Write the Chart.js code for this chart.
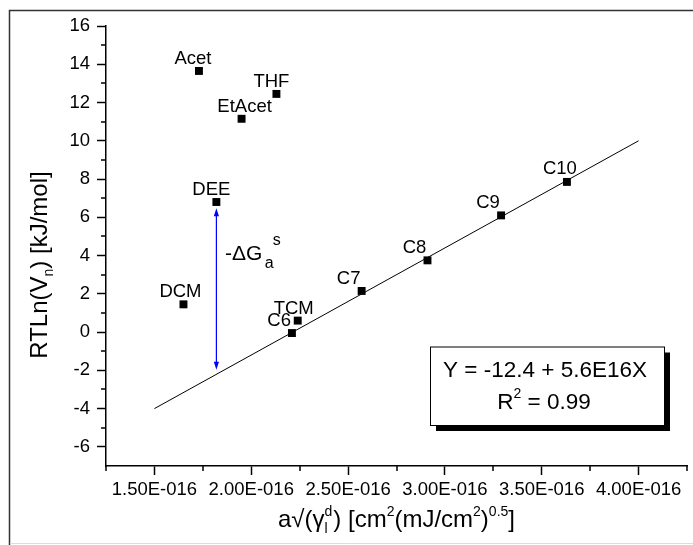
<!DOCTYPE html>
<html lang="en">
<head>
  <meta charset="utf-8">
  <title>RTLn(Vn) vs a sqrt(gamma)</title>
  <script src="https://cdn.jsdelivr.net/npm/chart.js@4.4.0/dist/chart.umd.min.js"></script>
  <style>
    body { margin: 0; background: #fff; }
    #wrap { width: 693px; height: 545px; }
  </style>
</head>
<body>
<div id="wrap"><canvas id="myChart" width="693" height="545"></canvas></div>
<script>
// probe molecules, values
var probes = ["Acet", "THF", "EtAcet", "DEE", "DCM", "TCM", "C6", "C7", "C8", "C9", "C10"];
var xValues = [1.73e-16, 2.13e-16, 1.95e-16, 1.82e-16, 1.65e-16, 2.24e-16, 2.21e-16, 2.57e-16, 2.91e-16, 3.29e-16, 3.63e-16];
var yValues = [13.65, 12.45, 11.15, 6.8, 1.45, 0.6, -0.05, 2.15, 3.75, 6.1, 7.85];

// regression line ends
var fitX = [1.5e-16, 4.0e-16];
var fitY = [-4, 10];

// -dGa arrow (DEE down to the line)
var arrowX = [1.82e-16, 1.82e-16];
var arrowY = [6.47, -1.97];

var xTicks = [1.5e-16, 2.0e-16, 2.5e-16, 3.0e-16, 3.5e-16, 4.0e-16];
var yTicks = [-6, -4, -2, 0, 2, 4, 6, 8, 10, 12, 14, 16];
var fitLines = ["Y = -12.4 + 5.6E16X", "= 0.99"];

var FONT = "'Liberation Sans', Arial, Helvetica, sans-serif";
Chart.defaults.font.family = FONT;
Chart.defaults.color = '#000';

function sci(v) {
  var p = v.toExponential(2).split('e');
  var e = parseInt(p[1], 10);
  return p[0] + 'E' + (e < 0 ? '-' : '+') + String(Math.abs(e)).padStart(3, '0');
}

// pieces: [text, size, baseline shift, no advance, extra advance]
function runWidth(ctx, parts) {
  var w = 0;
  parts.forEach(function(p) {
    ctx.font = p[1] + 'px ' + FONT;
    if (!p[3]) w += ctx.measureText(p[0]).width;
    if (p[4]) w += p[4];
  });
  return w;
}
function drawRun(ctx, parts, x, y) {
  parts.forEach(function(p) {
    ctx.font = p[1] + 'px ' + FONT;
    ctx.fillText(p[0], x, y + p[2]);
    if (!p[3]) x += ctx.measureText(p[0]).width;
    if (p[4]) x += p[4];
  });
}

// small per-label nudges [dx, dy, align]
var labelPos = {
  Acet: [-6, -7], THF: [-5, -7], EtAcet: [3, -7], DEE: [-5, -7], DCM: [-3, -7],
  TCM: [-4, -7], C6: [-1, -7, 'right'], C7: [-13, -7], C8: [-13, -7], C9: [-13, -7], C10: [-7, -8]
};

var decor = {
  id: 'decor',
  beforeDraw: function(chart) {
    var ctx = chart.ctx;
    ctx.save();
    ctx.fillStyle = '#fff';
    ctx.fillRect(0, 0, chart.width, chart.height);
    ctx.strokeStyle = '#333';
    ctx.lineWidth = 1.5;
    ctx.beginPath();
    ctx.moveTo(9.5, 545); ctx.lineTo(9.5, 10.5); ctx.lineTo(693, 10.5);
    ctx.stroke();
    ctx.strokeStyle = '#ddd';
    ctx.lineWidth = 1;
    ctx.beginPath();
    ctx.moveTo(10, 543.5); ctx.lineTo(693, 543.5);
    ctx.stroke();
    ctx.restore();
  },
  afterDraw: function(chart) {
    var ctx = chart.ctx;
    var xs = chart.scales.x, ys = chart.scales.y;
    var area = chart.chartArea;
    ctx.save();
    ctx.fillStyle = '#000';
    ctx.strokeStyle = '#000';

    // minor ticks
    ctx.lineWidth = 1.5;
    ctx.beginPath();
    for (var i = 0; i <= 12; i += 2) {
      var px = Math.round(xs.getPixelForValue(1.25e-16 + i * 0.25e-16));
      ctx.moveTo(px, area.bottom); ctx.lineTo(px, area.bottom + 5);
    }
    for (var v = -5; v <= 15; v += 2) {
      var py = Math.round(ys.getPixelForValue(v));
      ctx.moveTo(area.left, py); ctx.lineTo(area.left - 5, py);
    }
    ctx.stroke();

    // point labels
    ctx.font = '18.5px ' + FONT;
    ctx.textBaseline = 'alphabetic';
    probes.forEach(function(name, k) {
      var o = labelPos[name] || [-5, -7];
      ctx.textAlign = o[2] || 'center';
      ctx.fillText(name, xs.getPixelForValue(xValues[k]) + o[0], ys.getPixelForValue(yValues[k]) + o[1]);
    });

    // arrow
    var ax = xs.getPixelForValue(arrowX[0]);
    var ay1 = ys.getPixelForValue(arrowY[0]), ay2 = ys.getPixelForValue(arrowY[1]);
    ctx.strokeStyle = '#0000ff';
    ctx.fillStyle = '#0000ff';
    ctx.lineWidth = 1.2;
    ctx.beginPath();
    ctx.moveTo(ax, ay1 + 6); ctx.lineTo(ax, ay2 - 6);
    ctx.stroke();
    ctx.beginPath();
    ctx.moveTo(ax, ay1); ctx.lineTo(ax - 2.6, ay1 + 8); ctx.lineTo(ax + 2.6, ay1 + 8); ctx.closePath();
    ctx.moveTo(ax, ay2); ctx.lineTo(ax - 2.6, ay2 - 8); ctx.lineTo(ax + 2.6, ay2 - 8); ctx.closePath();
    ctx.fill();

    // -dGa^s label
    ctx.fillStyle = '#000';
    ctx.textAlign = 'left';
    var gy = ys.getPixelForValue(3.77);
    ctx.font = '21px ' + FONT;
    ctx.fillText('-\u0394G', ax + 8.5, gy);
    var gw = ctx.measureText('-\u0394G').width;
    ctx.font = '16px ' + FONT;
    ctx.fillText('a', ax + 11 + gw, gy + 8);
    ctx.fillText('s', ax + 19 + gw, gy - 15);

    // equation box
    var bx = 430, by = 346.5, bw = 234, bh = 78.5;
    ctx.fillStyle = '#000';
    ctx.fillRect(bx + 6, by + 6, bw, bh);
    ctx.fillStyle = '#fff';
    ctx.fillRect(bx, by, bw, bh);
    ctx.lineWidth = 1;
    ctx.strokeStyle = '#000';
    ctx.strokeRect(bx + 0.5, by + 0.5, bw, bh);
    ctx.fillStyle = '#000';
    ctx.textAlign = 'center';
    ctx.font = '22.5px ' + FONT;
    ctx.fillText(fitLines[0], bx + bw / 2 - 2, by + 30);
    ctx.textAlign = 'left';
    var r2 = [['R', 22.5, 0], ['2', 14, -11], [' ' + fitLines[1], 22.5, 0]];
    drawRun(ctx, r2, bx + bw / 2 - 3 - runWidth(ctx, r2) / 2, by + 62);

    // x title
    var xt = [['a\u221A(\u03B3', 24, 0], ['l', 14, 6, true], ['d', 14, -11, false, 1],
              [') [cm', 24, 0], ['2', 14, -11], ['(mJ/cm', 24, 0], ['2', 14, -11], [')', 24, 0],
              ['0.5', 14, -11], [']', 24, 0]];
    var xw = runWidth(ctx, xt);
    drawRun(ctx, xt, (area.left + area.right) / 2 - xw / 2, 527);

    // y title
    var yt = [['RTLn(V', 24, 0], ['n', 14, 6], [') [kJ/mol]', 24, 0]];
    var yw = runWidth(ctx, yt);
    ctx.translate(47, 265);
    ctx.rotate(-Math.PI / 2);
    drawRun(ctx, yt, -yw / 2, 0);
    ctx.restore();
  }
};

new Chart("myChart", {
  type: "scatter",
  data: {
    datasets: [{
      data: xValues.map(function(x, i) { return {x: x, y: yValues[i]}; }),
      pointStyle: 'rect',
      pointRadius: 5.6,
      backgroundColor: '#000',
      borderColor: '#000',
      borderWidth: 0
    }, {
      type: 'line',
      data: fitX.map(function(x, i) { return {x: x, y: fitY[i]}; }),
      borderColor: '#000',
      borderWidth: 1,
      pointRadius: 0,
      fill: false
    }]
  },
  options: {
    responsive: false,
    animation: false,
    events: [],
    layout: { padding: { top: 26, right: 6, bottom: 0, left: 0 } },
    plugins: { legend: { display: false }, tooltip: { enabled: false } },
    scales: {
      x: {
        type: 'linear',
        min: 1.25e-16,
        max: 4.25e-16,
        afterBuildTicks: function(scale) { scale.ticks = xTicks.map(function(v) { return {value: v}; }); },
        afterFit: function(scale) { scale.height = 79; },
        ticks: {
          font: { size: 18.5 },
          color: '#000',
          padding: 4,
          maxRotation: 0,
          autoSkip: false,
          callback: function(v) { return sci(v); }
        },
        grid: { drawOnChartArea: false, drawTicks: true, tickLength: 9, tickColor: '#000', tickWidth: 1.5 },
        border: { display: true, color: '#000', width: 1.5 }
      },
      y: {
        min: -7,
        max: 16,
        afterBuildTicks: function(scale) { scale.ticks = yTicks.map(function(v) { return {value: v}; }); },
        afterFit: function(scale) { scale.width = 106; },
        ticks: {
          font: { size: 18.5 },
          color: '#000',
          padding: 7,
          autoSkip: false
        },
        grid: { drawOnChartArea: false, drawTicks: true, tickLength: 9, tickColor: '#000', tickWidth: 1.5 },
        border: { display: true, color: '#000', width: 1.5 }
      }
    }
  },
  plugins: [decor]
});
</script>
</body>
</html>
